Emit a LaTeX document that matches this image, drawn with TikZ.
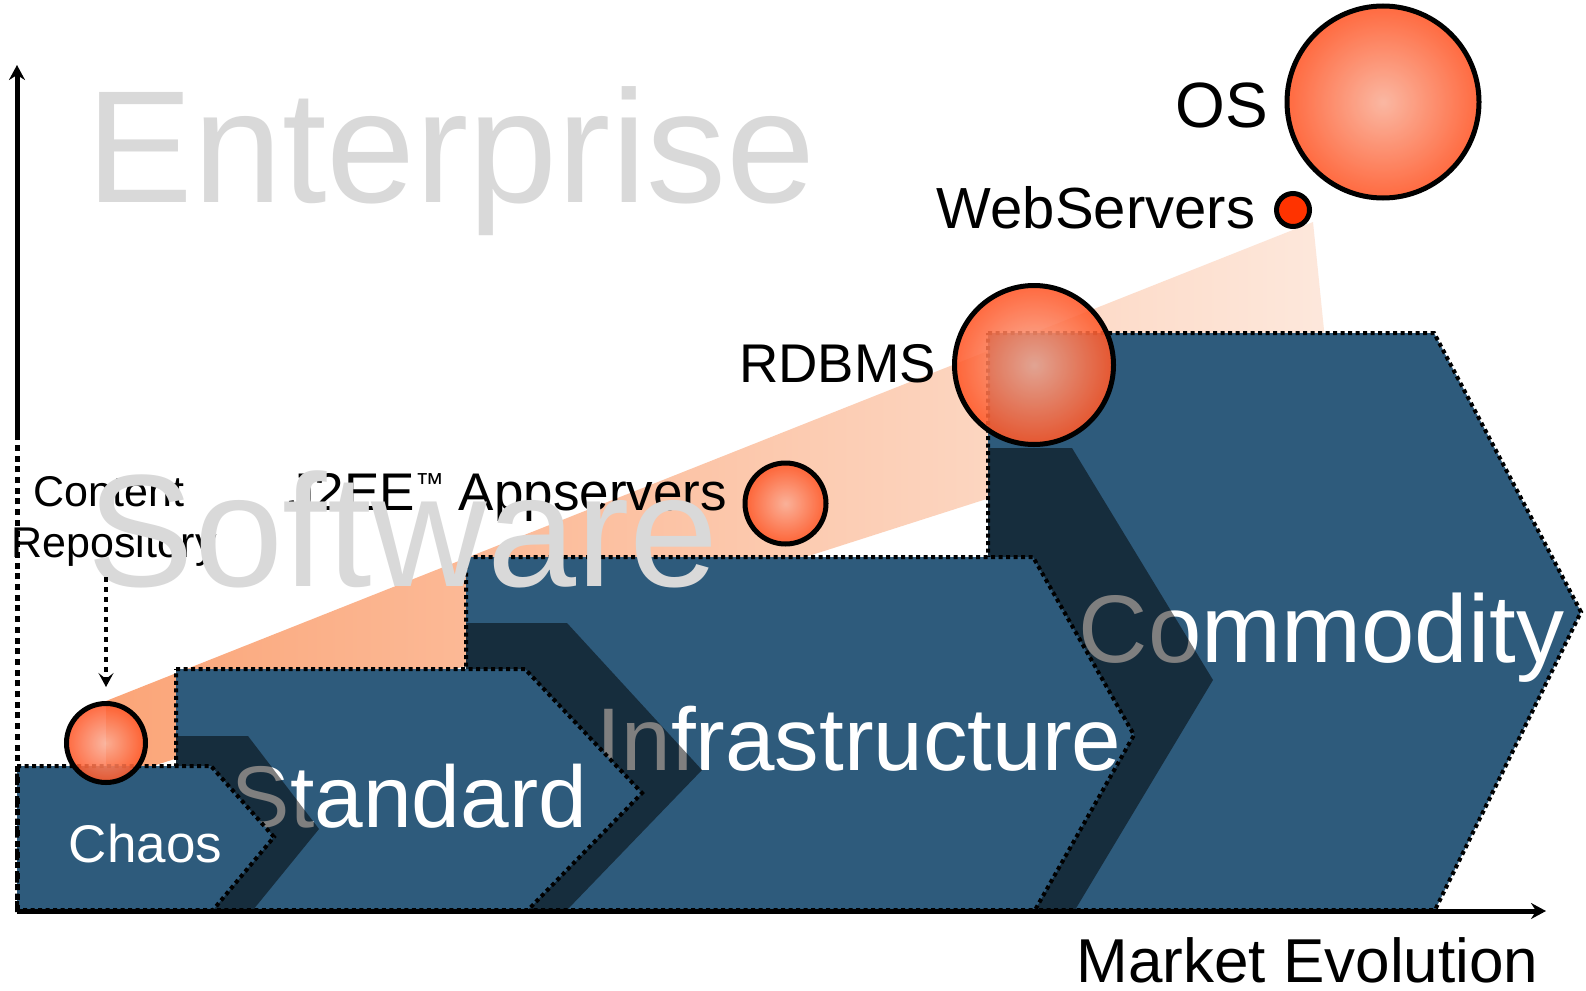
\documentclass[tikz,border=0pt]{standalone}
\usepackage{fontspec}
\setmainfont{Liberation Sans}
\usetikzlibrary{arrows.meta,positioning}
\definecolor{stagefill}{RGB}{46,91,124}
\definecolor{ghost}{RGB}{217,217,217}
\definecolor{bandleft}{RGB}{251,165,120}
\definecolor{bandright}{RGB}{253,232,220}
\definecolor{ballin}{RGB}{250,174,150}
\definecolor{ballout}{RGB}{255,86,38}
\definecolor{webred}{RGB}{255,51,0}

\begin{document}
\begin{tikzpicture}[x=1pt, y=-1pt,
    stage/.style={fill=stagefill, draw=black, line width=4pt, dash pattern=on 4pt off 3.5pt},
    stageshadow/.style={fill=black, fill opacity=0.5},
    ball/.style={circle, draw=black, line width=5pt, inner sep=0pt, inner color=ballin, outer color=ballout, fill opacity=0.88, minimum size=#1},
    txt/.style={inner sep=0pt, anchor=base, font=\fontsize{#1}{#1}\selectfont},
    axis/.style={line width=5pt}]
    \useasboundingbox[fill=white] (0,0) rectangle (1586,990);
    % Band
    \shade[left color=bandleft, right color=bandright] (106,701) -- (1313,222) -- (1330,389) -- (106,781) -- cycle;
    % Stages, back to front
    \draw[stage] (988,333) -- (1434,333) -- (1581,612) -- (1435,910) -- (988,910) -- cycle;
    \node[txt=96, white] (commodity) at (1321.5,662) {Commodity};
    \fill[stageshadow] (988,448) -- (1072,448) -- (1213,680) -- (1075,910) -- (988,910) -- cycle;
    \draw[stage] (466,557) -- (1033,557) -- (1134,735) -- (1035,910) -- (466,910) -- cycle;
    \node[txt=89, white] (infra) at (859,770) {Infrastructure};
    \fill[stageshadow] (466,623) -- (567,623) -- (702,770) -- (567,910) -- (466,910) -- cycle;
    \draw[stage] (176,669) -- (525,669) -- (642,793) -- (528,910) -- (176,910) -- cycle;
    \node[txt=87.5, white] (standard) at (409.5,827) {Standard};
    \fill[stageshadow] (176,736) -- (248,736) -- (319,829) -- (253,910) -- (176,910) -- cycle;
    \draw[stage] (17,766) -- (211,766) -- (274,837) -- (213,910) -- (17,910) -- cycle;
    \node[txt=53, white] (chaos) at (145.5,862) {Chaos};
    % Circles
    \node[ball=79] (chaosball) at (106,743) {};
    \node[ball=81] (appball) at (785.5,503.5) {};
    \node[ball=159] (rdbmsball) at (1034,365) {};
    \node[circle, draw=black, line width=5pt, fill=webred, inner sep=0pt, minimum size=33] (webball) at (1293,210) {};
    \node[ball=192] (osball) at (1383,102) {};
    % Labels
    \node[txt=43] (content) at (109,506) {Content}; \node[txt=43] (repo) at (114,557) {Repository};
    \node[txt=53, anchor=base east] (app) at (727,510) {J2EE\raisebox{17pt}{\fontsize{29}{29}\selectfont ™} Appservers};
    \node[txt=54.5] (rdbms) at (837.5,382) {RDBMS};
    \node[txt=58] (web) at (1096,228) {WebServers};
    \node[txt=64] (os) at (1222,127) {OS};
    \node[txt=160, ghost] (enterprise) at (451,202) {Enterprise};
    \node[txt=160, ghost] (software) at (403,586) {Software};
    \node[txt=62] (market) at (1307.5,982) {Market Evolution};
    % Axes
    \coordinate (origin) at (17,911); \coordinate (ybreak) at (17,437);
    \coordinate (ytop) at (17,65); \coordinate (xend) at (1546,911);
    \draw[axis, dash pattern=on 6pt off 4.7pt] (origin) -- (ybreak);
    \draw[axis, -{Stealth[length=15pt, width=16pt, inset=5pt]}] (ybreak) -- (ytop);
    \draw[axis, -{Stealth[length=15pt, width=16pt, inset=5pt]}] (origin) -- (xend);
    % Repository pointer
    \draw[line width=4.5pt, dash pattern=on 4.5pt off 5.5pt, -{Stealth[length=14pt, width=15pt, inset=6pt]}, shorten <=11pt, shorten >=14pt]
        (chaosball.north |- repo.south) -- (chaosball.north);
\end{tikzpicture}
\end{document}
